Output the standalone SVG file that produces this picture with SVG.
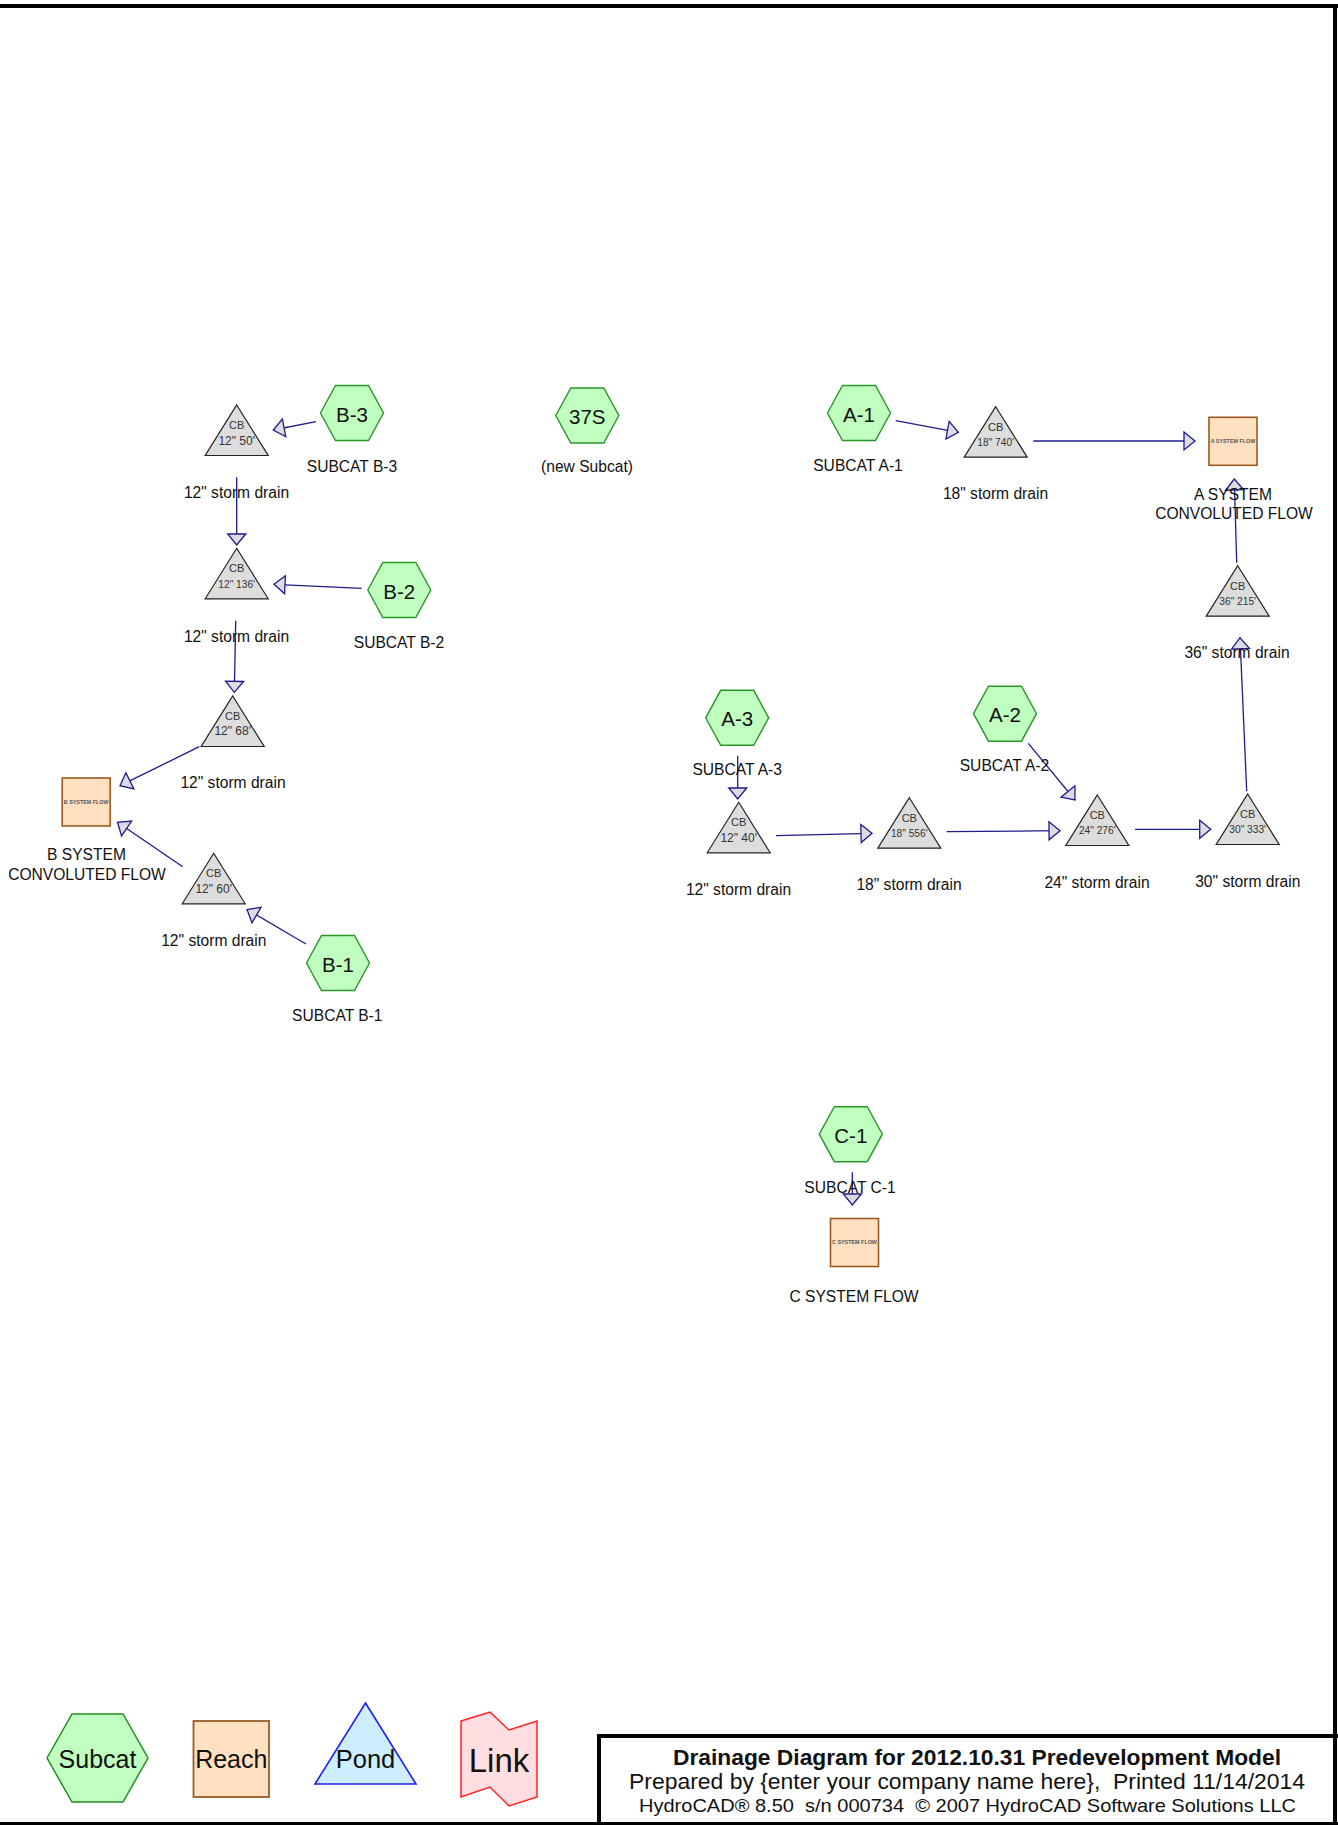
<svg xmlns="http://www.w3.org/2000/svg" width="1338" height="1825" viewBox="0 0 1338 1825">
<style>
text{font-family:"Liberation Sans",Arial,sans-serif;fill:#111;text-anchor:middle}
.hex{fill:#c0ffc0;stroke:#2a962a;stroke-width:1.4}
.tri{fill:#dddddd;stroke:#222;stroke-width:1.2}
.reach{fill:#ffe0c0;stroke:#9a5a22;stroke-width:1.6}
.nm{font-size:20.5px}
.lb{font-size:15.6px}
.cb{font-size:11px;fill:#333}
.len{fill:#333}
.rin{font-size:5.4px;fill:#555;font-weight:bold}
.con line{stroke:#1c1c8c;stroke-width:1.3;marker-end:url(#arr)}
.pre{white-space:pre}
</style>
<defs>
<marker id="arr" viewBox="-1 -11 14 22" refX="11" refY="0" markerWidth="14" markerHeight="22" markerUnits="userSpaceOnUse" orient="auto">
<path d="M0,-9 L11,0 L0,9 Z" fill="#dcdce2" stroke="#1c1c8c" stroke-width="1.3"/>
</marker>
<polygon id="hx" points="-31.5,0 -16.5,-27.5 16.5,-27.5 31.5,0 16.5,27.5 -16.5,27.5"/>
<polygon id="tr" points="0,0 31.5,50.5 -31.5,50.5"/>
</defs>
<rect width="1338" height="1825" fill="#fff"/>

<!-- frame -->
<g id="frame">
<rect x="0" y="4" width="1338" height="4" fill="#000"/>
<rect x="1333" y="4" width="4" height="1821" fill="#000"/>
<rect x="0" y="1822" width="1338" height="3" fill="#000"/>
<rect x="597" y="1734" width="741" height="4" fill="#000"/>
<rect x="597" y="1734" width="4" height="91" fill="#000"/>
</g>

<!-- connectors -->
<g id="connectors" class="con">
<line x1="315.9" y1="421.7" x2="273.3" y2="430"/>
<line x1="236.7" y1="477.3" x2="236.7" y2="545"/>
<line x1="361.7" y1="588.3" x2="274" y2="584.3"/>
<line x1="235.7" y1="620.7" x2="234.3" y2="692.3"/>
<line x1="199.3" y1="746.7" x2="120" y2="785.7"/>
<line x1="182.7" y1="866.7" x2="117.5" y2="822.3"/>
<line x1="306" y1="944" x2="247" y2="909.5"/>
<line x1="895.7" y1="420.7" x2="958.3" y2="432.3"/>
<line x1="1033.3" y1="441" x2="1195" y2="441"/>
<line x1="1236.7" y1="562.7" x2="1234.3" y2="479"/>
<line x1="1246.7" y1="791" x2="1240" y2="637.7"/>
<line x1="1135" y1="829.3" x2="1210.7" y2="829.3"/>
<line x1="1028.3" y1="743.3" x2="1075" y2="800"/>
<line x1="737.7" y1="755.7" x2="737.7" y2="799"/>
<line x1="776" y1="835.7" x2="872" y2="833.3"/>
<line x1="946.7" y1="831.7" x2="1060" y2="830.7"/>
<line x1="852.3" y1="1172.3" x2="852.3" y2="1205"/>
</g>

<!-- subcatchments -->
<g id="B-3"><use href="#hx" class="hex" x="352" y="413"/><text class="nm" x="352" y="421.5">B-3</text><text class="lb" x="352" y="471.7">SUBCAT B-3</text></g>
<g id="B-2"><use href="#hx" class="hex" x="399.3" y="590"/><text class="nm" x="399.3" y="598.5">B-2</text><text class="lb" x="399" y="648">SUBCAT B-2</text></g>
<g id="B-1"><use href="#hx" class="hex" x="338" y="963"/><text class="nm" x="338" y="971.5">B-1</text><text class="lb" x="337.3" y="1021">SUBCAT B-1</text></g>
<g id="S37"><use href="#hx" class="hex" x="587.3" y="415.5"/><text class="nm" x="587.3" y="424">37S</text><text class="lb" x="587" y="472">(new Subcat)</text></g>
<g id="A-1"><use href="#hx" class="hex" x="859" y="413"/><text class="nm" x="859" y="421.5">A-1</text><text class="lb" x="858" y="471">SUBCAT A-1</text></g>
<g id="A-2"><use href="#hx" class="hex" x="1005" y="713.7"/><text class="nm" x="1005" y="722">A-2</text><text class="lb" x="1004.5" y="771">SUBCAT A-2</text></g>
<g id="A-3"><use href="#hx" class="hex" x="737.2" y="717.8"/><text class="nm" x="737.2" y="726.3">A-3</text><text class="lb" x="737.2" y="775">SUBCAT A-3</text></g>
<g id="C-1"><use href="#hx" class="hex" x="850.8" y="1134.2"/><text class="nm" x="850.8" y="1142.7">C-1</text><text class="lb" x="850" y="1192.7">SUBCAT C-1</text></g>

<!-- ponds (catch basins) -->
<g id="P1"><use href="#tr" class="tri" x="236.7" y="405"/><text class="cb" x="236.7" y="429">CB</text><text class="len" x="236.7" y="444.5" font-size="12">12" 50'</text><text class="lb" x="236.5" y="498.3">12" storm drain</text></g>
<g id="P2"><use href="#tr" class="tri" x="236.7" y="548.3"/><text class="cb" x="236.7" y="572.3">CB</text><text class="len" x="236.7" y="587.5" font-size="10.2">12" 136'</text><text class="lb" x="236.5" y="641.7">12" storm drain</text></g>
<g id="P3"><use href="#tr" class="tri" x="232.7" y="696"/><text class="cb" x="232.7" y="720">CB</text><text class="len" x="232.7" y="735.2" font-size="12">12" 68'</text><text class="lb" x="233" y="788.3">12" storm drain</text></g>
<g id="P4"><use href="#tr" class="tri" x="213.7" y="853.3"/><text class="cb" x="213.7" y="877.3">CB</text><text class="len" x="213.7" y="893" font-size="12">12" 60'</text><text class="lb" x="213.8" y="946">12" storm drain</text></g>
<g id="P5"><use href="#tr" class="tri" x="995.7" y="406.7"/><text class="cb" x="995.7" y="430.7">CB</text><text class="len" x="995.7" y="445.7" font-size="10.2">18" 740'</text><text class="lb" x="995.5" y="499.3">18" storm drain</text></g>
<g id="P6"><use href="#tr" class="tri" x="1237.7" y="565.7"/><text class="cb" x="1237.7" y="590">CB</text><text class="len" x="1237.7" y="605" font-size="10.2">36" 215'</text><text class="lb" x="1237" y="658.3">36" storm drain</text></g>
<g id="P7"><use href="#tr" class="tri" x="1247.7" y="794"/><text class="cb" x="1247.7" y="818.3">CB</text><text class="len" x="1247.7" y="832.5" font-size="10.2">30" 333'</text><text class="lb" x="1247.8" y="886.7">30" storm drain</text></g>
<g id="P8"><use href="#tr" class="tri" x="1097.3" y="795"/><text class="cb" x="1097.3" y="819">CB</text><text class="len" x="1097.3" y="833.5" font-size="10.2">24" 276'</text><text class="lb" x="1097" y="887.7">24" storm drain</text></g>
<g id="P9"><use href="#tr" class="tri" x="738.7" y="802.3"/><text class="cb" x="738.7" y="826">CB</text><text class="len" x="738.7" y="841.7" font-size="12">12" 40'</text><text class="lb" x="738.5" y="895">12" storm drain</text></g>
<g id="P10"><use href="#tr" class="tri" x="909.3" y="797.7"/><text class="cb" x="909.3" y="821.7">CB</text><text class="len" x="909.3" y="836.7" font-size="10.2">18" 556'</text><text class="lb" x="909" y="890">18" storm drain</text></g>

<!-- reaches -->
<g id="RB"><rect class="reach" x="62.2" y="778" width="48" height="48"/><text class="rin" x="86.2" y="803.8">B SYSTEM FLOW</text><text class="lb" x="86.5" y="860">B SYSTEM</text><text class="lb" x="87" y="880">CONVOLUTED FLOW</text></g>
<g id="RA"><rect class="reach" x="1209" y="417.3" width="48" height="48"/><text class="rin" x="1233" y="443">A SYSTEM FLOW</text><text class="lb" x="1233" y="500">A SYSTEM</text><text class="lb" x="1234" y="519">CONVOLUTED FLOW</text></g>
<g id="RC"><rect class="reach" x="830.5" y="1218.5" width="48" height="48"/><text class="rin" x="854.5" y="1244.3">C SYSTEM FLOW</text><text class="lb" x="854" y="1301.7">C SYSTEM FLOW</text></g>

<!-- legend -->
<g id="legend">
<polygon points="47,1758 72,1714 123,1714 148,1758 123,1802 72,1802" fill="#c0ffc0" stroke="#1f8f1f" stroke-width="1.5"/>
<text x="97.5" y="1768" font-size="25">Subcat</text>
<rect x="193.5" y="1721" width="75.5" height="76" fill="#ffe0c0" stroke="#9a5a22" stroke-width="1.8"/>
<text x="231.3" y="1768" font-size="25">Reach</text>
<polygon points="365.5,1703 416,1784 315,1784" fill="#cceeff" stroke="#1f1fee" stroke-width="1.6"/>
<text x="365.5" y="1768" font-size="25.5">Pond</text>
<polygon points="461,1721 490,1712 509,1730 537,1721 537,1797 509,1806 490,1787 461,1797" fill="#ffdde0" stroke="#ff2020" stroke-width="1.5"/>
<text x="499" y="1772" font-size="33">Link</text>
</g>

<!-- title block -->
<g id="title">
<text x="977" y="1764.5" font-size="22.5" font-weight="bold" textLength="608" lengthAdjust="spacingAndGlyphs">Drainage Diagram for 2012.10.31 Predevelopment Model</text>
<text class="pre" x="967" y="1789" font-size="22" textLength="676" lengthAdjust="spacingAndGlyphs">Prepared by {enter your company name here},  Printed 11/14/2014</text>
<text class="pre" x="967.5" y="1812" font-size="19" textLength="657" lengthAdjust="spacingAndGlyphs">HydroCAD® 8.50  s/n 000734  © 2007 HydroCAD Software Solutions LLC</text>
</g>
</svg>
